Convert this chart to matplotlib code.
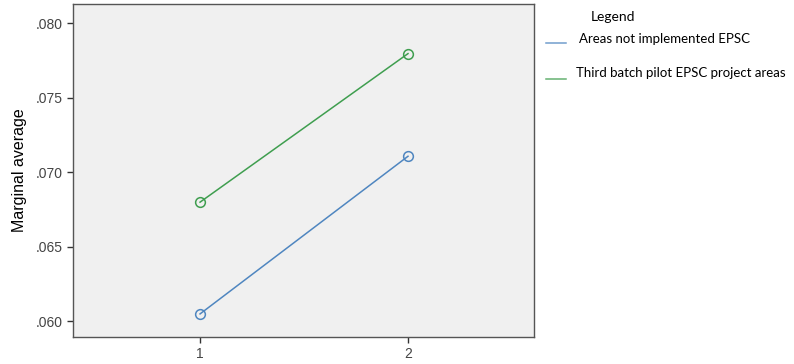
import matplotlib
matplotlib.use("Agg")
import matplotlib.pyplot as plt

x_labels = [1, 2]
not_implemented = [0.06048, 0.07106]
third_batch = [0.06798, 0.07795]
series_names = ["Areas not implemented EPSC", "Third batch pilot EPSC project areas"]
y_ticks = [0.060, 0.065, 0.070, 0.075, 0.080]

blue = "#4f86c0"
green = "#3f9e4f"

fig = plt.figure(figsize=(7.94, 3.64), dpi=100)
ax = fig.add_axes([73 / 794, 27 / 364, (534 - 73) / 794, 333 / 364])
ax.set_facecolor("#f0f0f0")

ax.plot(x_labels, not_implemented, color=blue, lw=1.1, marker="o", ms=7,
        mfc="none", mec=blue, mew=1.1)
ax.plot(x_labels, third_batch, color=green, lw=1.1, marker="o", ms=7,
        mfc="none", mec=green, mew=1.1)

ax.set_xlim(0.389, 2.606)
ax.set_ylim(0.05893, 0.08128)
ax.set_xticks(x_labels)
ax.set_xticklabels([str(v) for v in x_labels])
ax.set_yticks(y_ticks)
ax.set_yticklabels([f"{v:.3f}".lstrip("0") for v in y_ticks])
ax.tick_params(labelsize=10, colors="#333333", length=4, width=1, labelcolor="#444444")
for s in ax.spines.values():
    s.set_color("#555555")
    s.set_linewidth(1)
ax.set_ylabel("Marginal average", fontsize=11.5, family="Liberation Sans", labelpad=6)
for lab in ax.get_xticklabels() + ax.get_yticklabels():
    lab.set_family("Liberation Sans")

# legend drawn as figure text, like the SPSS output
fig.text(591 / 794, 1 - 17 / 364, "Legend", fontsize=10, va="center", family="Lato")
text_y = [39, 73]
line_y = [43, 79]
text_x = [579, 576]
for i, (name, col) in enumerate(zip(series_names, [blue, green])):
    ly = 1 - line_y[i] / 364
    fig.add_artist(plt.Line2D([546 / 794, 566 / 794], [ly, ly],
                              color=col, lw=1.1, alpha=0.8, transform=fig.transFigure))
    fig.text(text_x[i] / 794, 1 - text_y[i] / 364, name, fontsize=9.5,
             va="center", family="Lato")

fig.savefig("out.png", dpi=100)
